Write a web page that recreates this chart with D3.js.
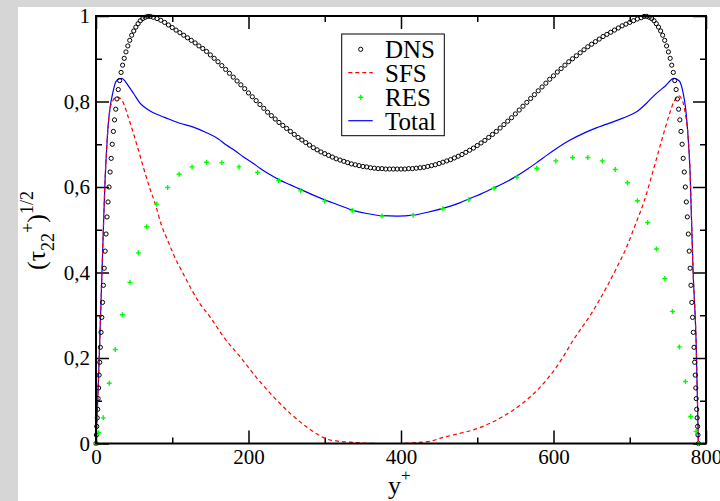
<!DOCTYPE html>
<html>
<head>
<meta charset="utf-8">
<script src="https://cdn.jsdelivr.net/npm/d3@7"></script>
<style>
  body { margin: 0; }
  svg { display: block; }
</style>
</head>
<body>
<div id="chart"></div>
<script>
// DNS profile (circles)
var dnsY = [
  0, 0.5, 1.0, 1.6, 2.2, 2.8, 3.4, 4.1, 4.9, 5.7, 6.6, 7.6, 8.6, 9.7, 10.8, 12.0, 13.2, 14.5, 15.8, 17.1,
  18.5, 19.9, 21.3, 22.8, 24.3, 25.9, 27.5, 29.2, 31.0, 32.9, 34.9, 37.0, 39.3, 41.7, 44.2, 46.8, 49.5, 52.3, 55.2, 58.2,
  61.3, 64.5, 67.8, 71.2, 75, 80, 85, 90, 95, 100, 105, 110, 115, 120, 125, 130, 135, 140, 145, 150,
  155, 160, 165, 170, 175, 180, 185, 190, 195, 200, 205, 210, 215, 220, 225, 230, 235, 240, 245, 250,
  255, 260, 265, 270, 275, 280, 285, 290, 295, 300, 305, 310, 315, 320, 325, 330, 335, 340, 345, 350,
  355, 360, 365, 370, 375, 380, 385, 390, 395, 400, 405, 410, 415, 420, 425, 430, 435, 440, 445, 450,
  455, 460, 465, 470, 475, 480, 485, 490, 495, 500, 505, 510, 515, 520, 525, 530, 535, 540, 545, 550,
  555, 560, 565, 570, 575, 580, 585, 590, 595, 600, 605, 610, 615, 620, 625, 630, 635, 640, 645, 650,
  655, 660, 665, 670, 675, 680, 685, 690, 695, 700, 705, 710, 715, 718.8, 722.2, 725.5, 728.7, 731.8, 734.8, 737.7,
  740.5, 743.2, 745.8, 748.3, 750.7, 753, 755.1, 757.1, 759, 760.8, 762.5, 764.1, 765.7, 767.2, 768.7, 770.1, 771.5, 772.9, 774.2, 775.5,
  776.8, 778, 779.2, 780.3, 781.4, 782.4, 783.4, 784.3, 785.1, 785.9, 786.6, 787.2, 787.8, 788.4, 789, 789.5, 790
];
var dnsV = [
  0, 0.02, 0.04, 0.06, 0.08, 0.105, 0.13, 0.16, 0.19, 0.225, 0.26, 0.295, 0.33, 0.37, 0.41, 0.45, 0.49, 0.53, 0.565, 0.6,
  0.635, 0.667, 0.7, 0.73, 0.757, 0.782, 0.806, 0.828, 0.849, 0.868, 0.885, 0.901, 0.916, 0.93, 0.943, 0.955, 0.965, 0.974, 0.982, 0.989,
  0.994, 0.997, 0.999, 0.999, 0.997, 0.994, 0.99, 0.985, 0.979, 0.973, 0.967, 0.961, 0.955, 0.949, 0.943, 0.937, 0.93, 0.924, 0.917, 0.909,
  0.901, 0.893, 0.884, 0.875, 0.866, 0.857, 0.848, 0.839, 0.83, 0.82, 0.811, 0.802, 0.793, 0.784, 0.775, 0.767, 0.759, 0.751, 0.744, 0.737,
  0.73, 0.723, 0.716, 0.71, 0.704, 0.698, 0.692, 0.687, 0.682, 0.678, 0.674, 0.67, 0.666, 0.663, 0.66, 0.657, 0.654, 0.652, 0.65, 0.648,
  0.647, 0.645, 0.644, 0.643, 0.643, 0.642, 0.642, 0.642, 0.642, 0.642, 0.642, 0.643, 0.643, 0.644, 0.645, 0.646, 0.648, 0.65, 0.652, 0.655,
  0.658, 0.661, 0.664, 0.668, 0.672, 0.676, 0.681, 0.686, 0.691, 0.697, 0.703, 0.709, 0.716, 0.723, 0.73, 0.738, 0.746, 0.754, 0.762, 0.771,
  0.78, 0.789, 0.798, 0.807, 0.816, 0.825, 0.834, 0.843, 0.852, 0.86, 0.869, 0.877, 0.885, 0.893, 0.9, 0.907, 0.914, 0.921, 0.928, 0.934,
  0.94, 0.946, 0.952, 0.957, 0.962, 0.967, 0.972, 0.977, 0.981, 0.985, 0.989, 0.993, 0.996, 0.999, 0.999, 0.997, 0.994, 0.989, 0.982, 0.974,
  0.965, 0.955, 0.943, 0.93, 0.916, 0.901, 0.885, 0.868, 0.849, 0.828, 0.806, 0.782, 0.757, 0.73, 0.7, 0.667, 0.635, 0.6, 0.565, 0.53,
  0.49, 0.45, 0.41, 0.37, 0.33, 0.295, 0.26, 0.225, 0.19, 0.16, 0.13, 0.105, 0.08, 0.06, 0.04, 0.02, 0
];

// SFS (red dashed)
var sfsY = [0, 2, 4, 6, 8, 10, 12, 14, 16, 18.4, 22, 27, 31, 35, 42, 49, 55, 62, 70, 77.4,
  86, 94, 101, 115, 136, 150, 167, 189, 210, 232.5, 255, 276, 290, 300, 315, 333, 350, 370, 395, 420,
  440, 451, 473, 495, 520, 547, 570, 591, 610, 626, 650, 670, 684, 696, 708, 718, 731, 742, 752, 758,
  764.6, 768, 771, 773, 776, 779, 783, 787, 790];
var sfsV = [0, 0.09, 0.19, 0.3, 0.41, 0.52, 0.62, 0.69, 0.745, 0.782, 0.802, 0.811, 0.808, 0.8, 0.765, 0.726, 0.69, 0.647, 0.6, 0.562,
  0.51, 0.475, 0.445, 0.395, 0.328, 0.295, 0.25, 0.203, 0.155, 0.11, 0.07, 0.039, 0.022, 0.012, 0.006, 0.003, 0.001, 0, 0, 0.002,
  0.006, 0.012, 0.022, 0.032, 0.05, 0.078, 0.11, 0.149, 0.195, 0.242, 0.305, 0.367, 0.415, 0.46, 0.515, 0.562, 0.64, 0.71, 0.77, 0.8,
  0.813, 0.806, 0.79, 0.77, 0.73, 0.64, 0.406, 0.24, 0];

// RES (green crosses)
var resY = [0, 3.5, 9.6, 17.4, 25.3, 34.5, 44.6, 55.5, 66.4, 79.6, 94, 109, 126, 145, 165, 187.5, 212, 239.6, 268.5, 300,
  336, 375, 416, 455, 489, 522, 552, 578, 603, 625, 645, 664, 681, 697, 710, 723.5, 735, 746, 756, 765,
  773, 780, 787, 790];
var resV = [0, 0.025, 0.06, 0.141, 0.22, 0.301, 0.377, 0.446, 0.507, 0.56, 0.599, 0.63, 0.647, 0.658, 0.657, 0.647, 0.634, 0.615, 0.591, 0.567,
  0.545, 0.532, 0.534, 0.549, 0.57, 0.597, 0.623, 0.644, 0.661, 0.669, 0.669, 0.661, 0.641, 0.61, 0.568, 0.517, 0.455, 0.386, 0.309, 0.226,
  0.145, 0.063, 0.028, 0];

// Total (blue line)
var totY = [0, 2, 4, 6, 8, 10, 12, 14, 16, 18.4, 22, 26, 30, 33.7, 37, 40, 45, 50, 57.7, 62,
  70, 79.6, 90, 101, 110, 127.6, 145, 160, 171, 183, 193, 205, 215, 228, 241, 255, 267.5, 285, 300, 318,
  336, 355, 375, 395, 416, 435, 455, 477, 490, 505, 522, 537, 552, 565, 578, 591, 604, 620, 643.5, 657,
  670, 685, 700, 709, 722, 735, 747, 758, 765, 770, 773, 776, 779, 783, 787, 790];
var totV = [0, 0.09, 0.19, 0.3, 0.41, 0.52, 0.62, 0.69, 0.745, 0.785, 0.82, 0.846, 0.853, 0.854, 0.85, 0.843, 0.83, 0.817, 0.796, 0.789,
  0.779, 0.77, 0.763, 0.755, 0.749, 0.74, 0.727, 0.713, 0.698, 0.684, 0.671, 0.657, 0.644, 0.629, 0.616, 0.605, 0.595, 0.581, 0.57, 0.558,
  0.546, 0.538, 0.533, 0.532, 0.534, 0.541, 0.55, 0.563, 0.573, 0.584, 0.598, 0.611, 0.626, 0.641, 0.657, 0.674, 0.69, 0.708, 0.729, 0.739,
  0.747, 0.757, 0.768, 0.776, 0.796, 0.819, 0.837, 0.854, 0.848, 0.82, 0.788, 0.73, 0.64, 0.406, 0.24, 0];

var xTicks = [0, 200, 400, 600, 800];
var xTickLabels = ["0", "200", "400", "600", "800"];
var xMinor = [100, 300, 500, 700];
var yTicks = [0, 0.2, 0.4, 0.6, 0.8, 1];
var yTickLabels = ["0", "0,2", "0,4", "0,6", "0,8", "1"];
var yMinor = [0.1, 0.3, 0.5, 0.7, 0.9];
var legendNames = ["DNS", "SFS", "RES", "Total"];

var svgWidth = 720;
var svgHeight = 501;
var margin = { top: 16, right: 14, bottom: 57.5, left: 96 };
var width = svgWidth - margin.left - margin.right;
var height = svgHeight - margin.top - margin.bottom;
var serif = "'Liberation Serif', 'Times New Roman', serif";

var svg = d3.select("#chart")
  .append("svg")
  .attr("width", svgWidth)
  .attr("height", svgHeight);

// grey backdrop and white sheet
svg.append("rect").attr("width", svgWidth).attr("height", svgHeight).attr("fill", "#d6d6d6");
svg.append("rect").attr("x", 18).attr("y", 7).attr("width", svgWidth - 18).attr("height", svgHeight - 7).attr("fill", "#fff");

var chartGroup = svg.append("g")
  .attr("transform", `translate(${margin.left}, ${margin.top})`);

var x = d3.scaleLinear().domain([0, 800]).range([0, width]);
var y = d3.scaleLinear().domain([0, 1]).range([height, 0]);

function styleAxis(g) {
  g.select(".domain").remove();
  g.selectAll("line").attr("stroke", "#000").attr("stroke-width", 1.5);
  g.selectAll("text").attr("font-family", serif).attr("font-size", 21).attr("fill", "#000");
}

// bottom / top
chartGroup.append("g").attr("transform", `translate(0, ${height})`)
  .call(d3.axisBottom(x).tickValues(xTicks).tickFormat((d, i) => xTickLabels[i])
    .tickSizeInner(-13).tickSizeOuter(0).tickPadding(6))
  .call(styleAxis);
chartGroup.append("g").attr("transform", `translate(0, ${height})`)
  .call(d3.axisBottom(x).tickValues(xMinor).tickFormat("").tickSizeInner(-6).tickSizeOuter(0))
  .call(styleAxis);
chartGroup.append("g")
  .call(d3.axisTop(x).tickValues(xTicks).tickFormat("").tickSizeInner(-13).tickSizeOuter(0))
  .call(styleAxis);
chartGroup.append("g")
  .call(d3.axisTop(x).tickValues(xMinor).tickFormat("").tickSizeInner(-6).tickSizeOuter(0))
  .call(styleAxis);

// left / right
chartGroup.append("g")
  .call(d3.axisLeft(y).tickValues(yTicks).tickFormat((d, i) => yTickLabels[i])
    .tickSizeInner(-13).tickSizeOuter(0).tickPadding(6))
  .call(styleAxis);
chartGroup.append("g")
  .call(d3.axisLeft(y).tickValues(yMinor).tickFormat("").tickSizeInner(-6).tickSizeOuter(0))
  .call(styleAxis);
chartGroup.append("g").attr("transform", `translate(${width}, 0)`)
  .call(d3.axisRight(y).tickValues(yTicks).tickFormat("").tickSizeInner(-13).tickSizeOuter(0))
  .call(styleAxis);
chartGroup.append("g").attr("transform", `translate(${width}, 0)`)
  .call(d3.axisRight(y).tickValues(yMinor).tickFormat("").tickSizeInner(-6).tickSizeOuter(0))
  .call(styleAxis);

// lines
var sfsLine = d3.line().x((d, i) => x(sfsY[i])).y(d => y(d)).curve(d3.curveMonotoneX);
var totLine = d3.line().x((d, i) => x(totY[i])).y(d => y(d)).curve(d3.curveMonotoneX);

chartGroup.append("path")
  .attr("d", totLine(totV))
  .attr("fill", "none")
  .attr("stroke", "#0000ff")
  .attr("stroke-width", 1.2);

chartGroup.append("path")
  .attr("d", sfsLine(sfsV))
  .attr("fill", "none")
  .attr("stroke", "#ff0000")
  .attr("stroke-width", 1.2)
  .attr("stroke-dasharray", "4,3");

// DNS circles
chartGroup.append("g")
  .selectAll("circle")
  .data(dnsV)
  .enter()
  .append("circle")
  .attr("cx", (d, i) => x(dnsY[i]))
  .attr("cy", d => y(d))
  .attr("r", 2.1)
  .attr("fill", "none")
  .attr("stroke", "#000")
  .attr("stroke-width", 1);

// RES crosses
var plus = "M-2.5,0H2.5M0,-2.5V2.5";
chartGroup.append("g")
  .selectAll("path")
  .data(resV)
  .enter()
  .append("path")
  .attr("d", plus)
  .attr("transform", (d, i) => `translate(${x(resY[i])}, ${y(d)})`)
  .attr("stroke", "#00ff00")
  .attr("stroke-width", 1.4);

// frame
chartGroup.append("rect")
  .attr("width", width)
  .attr("height", height)
  .attr("fill", "none")
  .attr("stroke", "#000")
  .attr("stroke-width", 2);

// legend
var legend = svg.append("g");
legend.append("rect")
  .attr("x", 341.7).attr("y", 34)
  .attr("width", 102.6).attr("height", 101.7)
  .attr("fill", "#fff").attr("stroke", "#000").attr("stroke-width", 1);
var rowY = [49.3, 72.7, 97.3, 120.7];
legend.selectAll("text.lg")
  .data(legendNames)
  .enter()
  .append("text")
  .attr("class", "lg")
  .attr("x", 385)
  .attr("y", (d, i) => rowY[i] + 9)
  .attr("font-family", serif)
  .attr("font-size", 25)
  .text(d => d);
legend.append("circle").attr("cx", 360.7).attr("cy", rowY[0]).attr("r", 2.1)
  .attr("fill", "none").attr("stroke", "#000").attr("stroke-width", 1);
legend.append("line").attr("x1", 348.3).attr("x2", 372.7).attr("y1", rowY[1]).attr("y2", rowY[1])
  .attr("stroke", "#ff0000").attr("stroke-width", 1.2).attr("stroke-dasharray", "4,3");
legend.append("path").attr("d", plus).attr("transform", `translate(360.7, ${rowY[2]})`)
  .attr("stroke", "#00ff00").attr("stroke-width", 1.4);
legend.append("line").attr("x1", 348.3).attr("x2", 372.7).attr("y1", rowY[3]).attr("y2", rowY[3])
  .attr("stroke", "#0000ff").attr("stroke-width", 1.2);

// axis titles
var xt = svg.append("text")
  .attr("x", 388).attr("y", 494)
  .attr("font-family", serif).attr("font-size", 26);
xt.append("tspan").text("y");
xt.append("tspan").attr("font-size", 17).attr("dy", -13.5).text("+");

var yt = svg.append("text")
  .attr("transform", "translate(45, 270) rotate(-90)")
  .attr("font-family", serif).attr("font-size", 26);
yt.append("tspan").text("(τ");
yt.append("tspan").attr("font-size", 18).attr("dy", 9).text("22");
yt.append("tspan").attr("font-size", 18).attr("dy", -20).text("+");
yt.append("tspan").attr("dy", 11).text(")");
yt.append("tspan").attr("font-size", 18).attr("dy", -12).text("1/2");
</script>
</body>
</html>
